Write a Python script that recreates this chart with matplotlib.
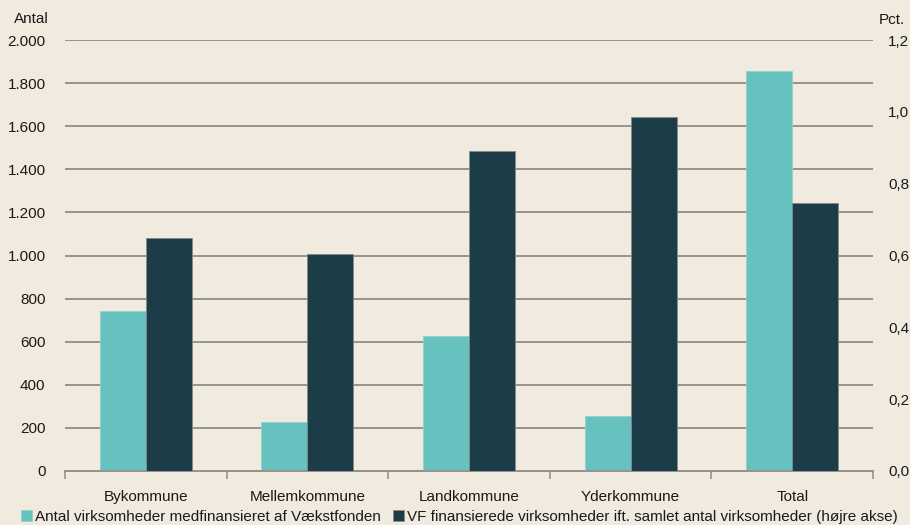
import matplotlib
matplotlib.use("Agg")
import matplotlib.pyplot as plt
import numpy as np
from matplotlib.ticker import FixedLocator, FuncFormatter

plt.rcParams['font.family'] = ['Liberation Sans Narrow', 'Liberation Sans', 'DejaVu Sans']

categories = ["Bykommune", "Mellemkommune", "Landkommune", "Yderkommune", "Total"]
antal = [743, 226, 627, 255, 1858]
andel = [0.649, 0.603, 0.890, 0.986, 0.746]
left_ticks = [0, 200, 400, 600, 800, 1000, 1200, 1400, 1600, 1800, 2000]
right_ticks = [0.0, 0.2, 0.4, 0.6, 0.8, 1.0, 1.2]
legend_labels = ["Antal virksomheder medfinansieret af Vækstfonden",
                 "VF finansierede virksomheder ift. samlet antal virksomheder (højre akse)"]

bg = "#F1EADF"
teal = "#67C2BF"
dark = "#1C3C47"
grid = "#96938F"
txt = "#1a1a1a"

fig = plt.figure(figsize=(9.1, 5.25), dpi=100, facecolor=bg)
ax = fig.add_axes([65/910, 1 - 471/525, (873-65)/910, (471-40)/525])
ax.set_facecolor(bg)
ax2 = ax.twinx()

x = np.arange(len(categories))
w = 0.285
b1 = ax.bar(x - w/2, antal, w, color=teal, edgecolor="#8fd3d0", linewidth=0.6, zorder=3,
            label=legend_labels[0])
b2 = ax2.bar(x + w/2, andel, w, color=dark, edgecolor="#7f8b8f", linewidth=0.6, zorder=3,
             label=legend_labels[1])

ax.set_xlim(-0.5, len(categories) - 0.5)
ax.set_ylim(0, 2000)
ax2.set_ylim(0, 1.2)

ax.yaxis.set_major_locator(FixedLocator(left_ticks))
ax2.yaxis.set_major_locator(FixedLocator(right_ticks))
ax.yaxis.set_major_formatter(FuncFormatter(lambda v, p: f"{int(v):,}".replace(",", ".")))
ax2.yaxis.set_major_formatter(FuncFormatter(lambda v, p: f"{v:.1f}".replace(".", ",")))

ax.grid(axis='y', color=grid, linewidth=1.4, zorder=0)
ax.set_axisbelow(True)
ax2.set_zorder(ax.get_zorder() + 1)
ax2.patch.set_visible(False)

for a in (ax, ax2):
    for s in ("top", "left", "right"):
        a.spines[s].set_visible(False)
    a.spines["bottom"].set_color(grid)
    a.spines["bottom"].set_linewidth(1.4)

ax.tick_params(axis='y', length=0, pad=14, labelsize=11, labelcolor=txt)
ax2.tick_params(axis='y', length=0, pad=11, labelsize=11, labelcolor=txt)

ax.set_xticks(x)
ax.set_xticklabels(categories, fontsize=11, color=txt)
ax.tick_params(axis='x', which='major', length=0, pad=14)
ax.set_xticks(np.arange(-0.5, len(categories), 1.0), minor=True)
ax.tick_params(axis='x', which='minor', length=6, width=1.2, color=grid, direction='out')

fig.text(14/910, 1 - 19/525, "Antal", fontsize=11, color=txt, va='center', ha='left')
fig.text(879/910, 1 - 20/525, "Pct.", fontsize=11, color=txt, va='center', ha='left')

fig.legend(handles=[b1, b2], labels=legend_labels, loc='center', bbox_to_anchor=(0.505, 1 - 517/525),
           ncol=2, frameon=False, fontsize=11, handlelength=0.7, handleheight=0.7,
           handletextpad=0.2, columnspacing=0.8, borderaxespad=0, labelcolor=txt)

fig.savefig("out.png", dpi=100, facecolor=bg)
